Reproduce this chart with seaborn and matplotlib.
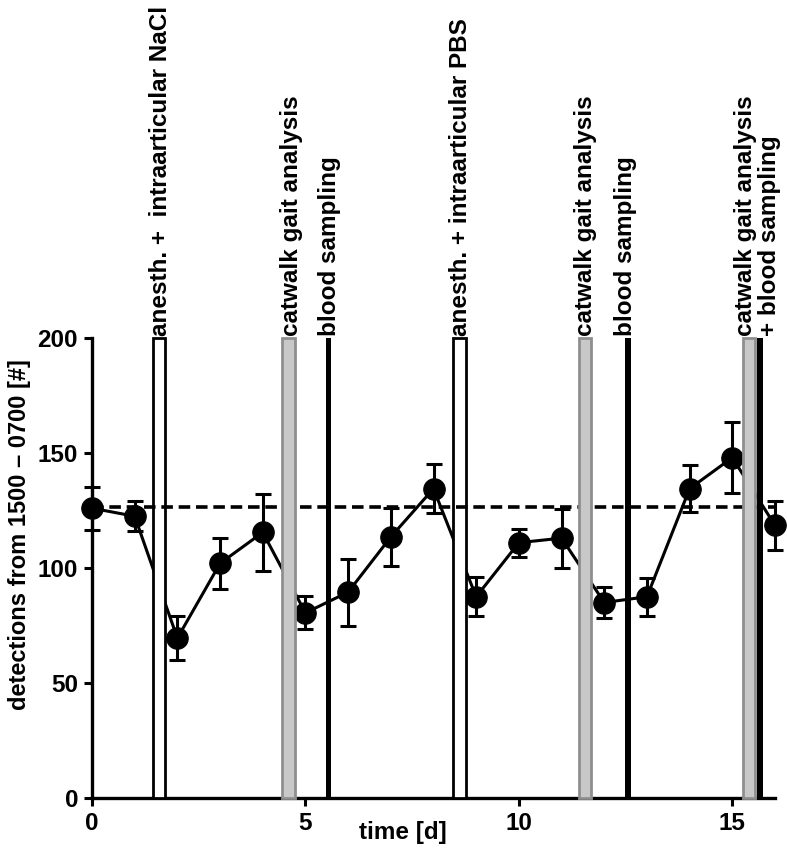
import numpy as np
import pandas as pd
import matplotlib
matplotlib.use("Agg")
import matplotlib.pyplot as plt
import seaborn as sns

# ---- data ----
days = list(range(17))
mean = [126, 122.5, 69.5, 102, 115.5, 80.5, 89.5, 113.5, 134.5, 87.5, 111, 113, 85, 87.5, 134.5, 148, 118.5]
sem = [9.3, 6.5, 9.5, 11.2, 16.8, 7.2, 14.5, 12.8, 10.8, 8.5, 6.0, 12.8, 6.7, 8.2, 10.3, 15.5, 10.5]
baseline = 126.5

anesth_days = [1.57, 8.6]
catwalk_days = [4.6, 11.55, 15.39]
blood_days = [5.54, 12.55, 15.65]

event_labels = ["anesth. +  intraarticular NaCl", "catwalk gait analysis", "blood sampling",
                "anesth. + intraarticular PBS", "catwalk gait analysis", "blood sampling",
                "catwalk gait analysis", "+ blood sampling"]
label_x = [1.6, 4.68, 5.56, 8.63, 11.56, 12.5, 15.3, 15.87]

xticks = [0, 5, 10, 15]
yticks = [0, 50, 100, 150, 200]

# ---- style ----
sns.set_style("ticks")
plt.rcParams['font.family'] = ['Liberation Sans', 'DejaVu Sans']
plt.rcParams['font.weight'] = 'bold'
for k in ["text.color", "axes.labelcolor", "xtick.color", "ytick.color", "axes.edgecolor"]:
    plt.rcParams[k] = "black"

fig = plt.figure(figsize=(7.87, 8.52), dpi=100)
ax = fig.add_axes([92/787, 1-798/852, (775-92)/787, (798-338)/852])

df = pd.DataFrame({"day": days, "mean": mean, "sem": sem})

sns.lineplot(data=df, x="day", y="mean", color="black", linewidth=2.2,
             marker="o", markersize=15.5, markeredgecolor="black", ax=ax, zorder=2)
for ln in ax.lines:
    ln.set_clip_on(False)
eb = ax.errorbar(df["day"], df["mean"], yerr=df["sem"], fmt="none", ecolor="black",
                 elinewidth=2.2, capsize=6, capthick=2.2, zorder=2)
for c in eb.lines[1] + eb.lines[2]:
    c.set_clip_on(False)

# event bars
ax.bar(anesth_days, [200]*len(anesth_days), width=0.3, bottom=0, color="white",
       edgecolor="black", linewidth=2.0, zorder=3, clip_on=False)
ax.plot([0, 16], [baseline, baseline], color="black", linestyle=(0, (3.2, 1.6)),
        linewidth=2.6, zorder=4, clip_on=False)
ax.bar(catwalk_days, [200]*len(catwalk_days), width=0.3, bottom=0, color="#c8c8c8",
       edgecolor="#8f8f8f", linewidth=2.0, zorder=5, clip_on=False)
ax.bar(blood_days, [200]*len(blood_days), width=0.14, bottom=0, color="black",
       edgecolor="black", linewidth=0, zorder=6, clip_on=False)

for lx, lab in zip(label_x, event_labels):
    ax.text(lx, 201, lab, rotation=90, ha="center", va="bottom",
            fontsize=17.5, fontweight="bold", color="black", clip_on=False)

ax.set_xlim(0, 16)
ax.set_ylim(0, 200)
ax.set_xticks(xticks)
ax.set_yticks(yticks)
ax.tick_params(axis="both", direction="out", length=6, width=2.2, labelsize=17.5, pad=4,
               colors="black")
for lab in ax.get_xticklabels() + ax.get_yticklabels():
    lab.set_fontweight("bold")
for s in ["left", "bottom"]:
    ax.spines[s].set_linewidth(2.4)
    ax.spines[s].set_color("black")
sns.despine(ax=ax)

ax.set_xlabel("time [d]", fontsize=17.5, fontweight="bold", va="center", color="black")
ax.xaxis.set_label_coords((403-92)/683, -(832-798)/460)
ax.set_ylabel("detections from 1500 \u2013 0700 [#]", fontsize=17, fontweight="bold",
              va="center", color="black")
ax.yaxis.set_label_coords((20-92)/683, (798-535)/460)

fig.savefig("out.png", dpi=100)
